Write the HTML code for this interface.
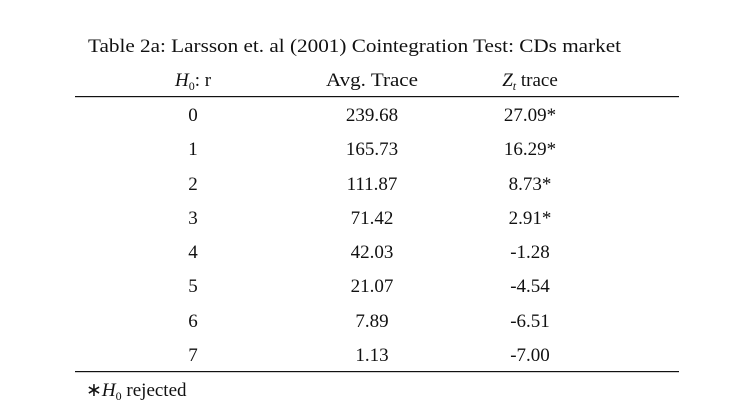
<!DOCTYPE html>
<html><head><meta charset="utf-8"><style>
html,body{margin:0;padding:0;background:#fff;}
svg{display:block;}
text{font-family:"Liberation Serif",serif;fill:#111;font-size:19px;}
</style></head><body>
<svg width="741" height="407" viewBox="0 0 741 407">
<text x="88" y="52" font-size="19" textLength="533" lengthAdjust="spacingAndGlyphs">Table 2a: Larsson et. al (2001) Cointegration Test: CDs market</text>
<text x="193" y="86" text-anchor="middle"><tspan font-style="italic">H</tspan><tspan font-size="12" dy="4">0</tspan><tspan dy="-4">: r</tspan></text>
<text x="372" y="86" text-anchor="middle" textLength="92" lengthAdjust="spacingAndGlyphs">Avg. Trace</text>
<text x="530" y="86" text-anchor="middle"><tspan font-style="italic">Z</tspan><tspan font-size="12" font-style="italic" dy="4">t</tspan><tspan dy="-4"> trace</tspan></text>
<rect x="75" y="96" width="604" height="1.2" fill="#111"/>
<g text-anchor="middle">
<text x="193" y="121">0</text><text x="372" y="121">239.68</text><text x="530" y="121">27.09*</text>
<text x="193" y="155">1</text><text x="372" y="155">165.73</text><text x="530" y="155">16.29*</text>
<text x="193" y="190">2</text><text x="372" y="190">111.87</text><text x="530" y="190">8.73*</text>
<text x="193" y="224">3</text><text x="372" y="224">71.42</text><text x="530" y="224">2.91*</text>
<text x="193" y="258">4</text><text x="372" y="258">42.03</text><text x="530" y="258">-1.28</text>
<text x="193" y="292">5</text><text x="372" y="292">21.07</text><text x="530" y="292">-4.54</text>
<text x="193" y="327">6</text><text x="372" y="327">7.89</text><text x="530" y="327">-6.51</text>
<text x="193" y="361">7</text><text x="372" y="361">1.13</text><text x="530" y="361">-7.00</text>
</g>
<rect x="75" y="371" width="604" height="1.2" fill="#111"/>
<text x="86" y="396">∗<tspan font-style="italic">H</tspan><tspan font-size="12" dy="4">0</tspan><tspan dy="-4"> rejected</tspan></text>
</svg>
</body></html>
